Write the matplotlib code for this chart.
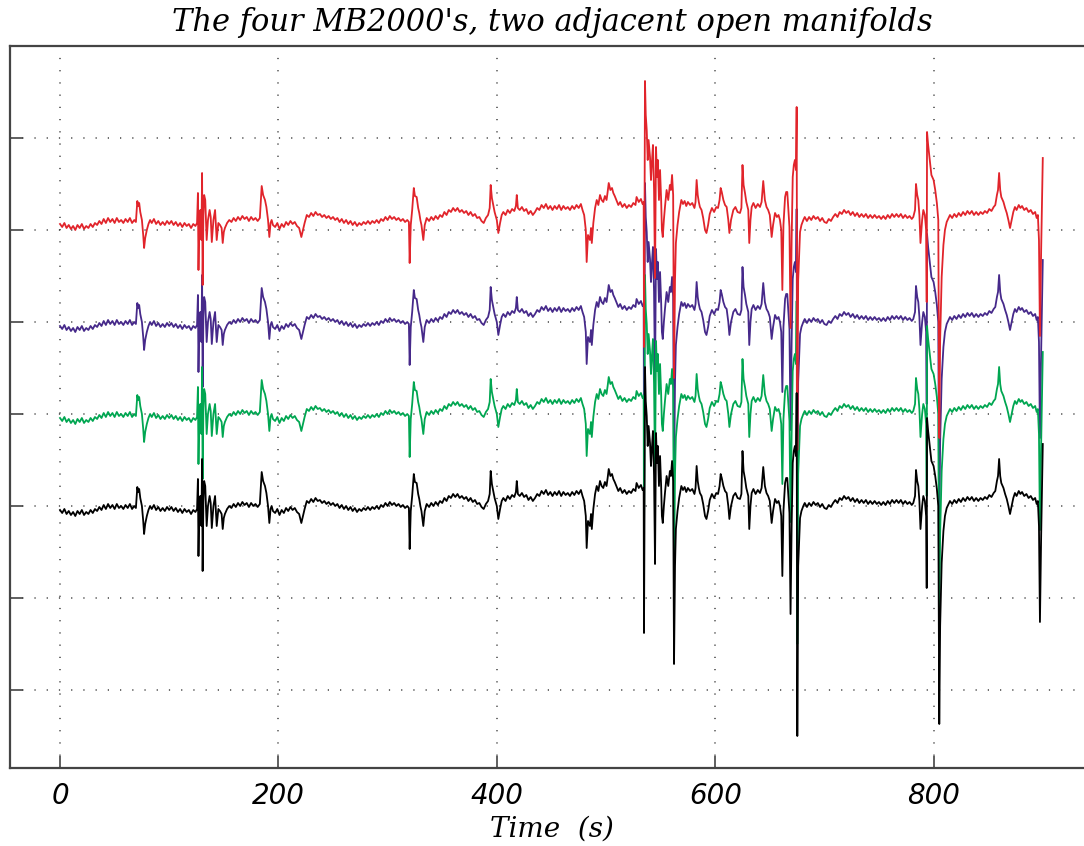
import matplotlib
matplotlib.use("Agg")
import matplotlib.pyplot as plt
import numpy as np

# ---- data (time in s, level in plot units; one grid division = 92 units) ----
time_s = [
    0, 2, 4, 6, 8, 10, 12, 14, 16, 18, 20, 22,
    24, 26, 28, 30, 32, 34, 36, 38, 40, 42, 44, 46,
    48, 50, 52, 54, 56, 58, 60, 62, 64, 66, 68, 69.5,
    70.8, 71.5, 72.5, 73.5, 75, 76.2, 77, 78, 79.5, 81, 82.5, 84,
    86, 88, 90, 92, 94, 96, 98, 100, 102, 104, 106, 108,
    110, 112, 114, 116, 118, 120, 122, 124, 125.5, 126.3, 126.8, 127.5,
    128.5, 129.5, 130.1, 130.6, 131.3, 132, 133, 134.3, 135.5, 137, 138, 139,
    140.5, 142, 143.5, 145, 146.5, 148, 149, 150, 151, 153, 155, 157,
    159, 161, 163, 165, 167, 169, 171, 173, 175, 177, 179, 181,
    183, 184.7, 186, 187.7, 189, 190.5, 191.7, 192.8, 193.8, 195, 197, 199,
    201, 203, 205, 207, 209, 211, 213, 215, 217, 219, 221, 222.5,
    224, 226, 228, 230, 232, 234, 236, 238, 240, 242, 244, 246,
    248, 250, 252, 254, 256, 258, 260, 262, 264, 266, 268, 270,
    272, 274, 276, 278, 280, 282, 284, 286, 288, 290, 292, 294,
    296, 298, 300, 302, 304, 306, 308, 310, 312, 314, 316, 318,
    319.5, 320.2, 321.2, 322.5, 324, 325, 326.6, 328, 329, 330, 331, 332.7,
    334, 335.8, 338, 340, 342, 344, 346, 348, 350, 352, 354, 356,
    358, 360, 362, 364, 366, 368, 370, 372, 374, 376, 378, 380,
    382, 384, 386, 388, 390, 392, 393.5, 394.4, 395.5, 396.8, 398, 400,
    401.4, 403, 404.5, 406, 408, 410, 412, 414, 416, 417.5, 418.3, 419.3,
    421, 423, 425, 427, 429, 431, 433, 435, 437, 439, 441, 443,
    445, 447, 449, 451, 453, 455, 457, 459, 461, 463, 465, 467,
    469, 471, 473, 475, 477, 478.5, 480, 481.5, 482.3, 483.5, 485.3, 486.3,
    487, 488.4, 490, 491.5, 493, 494.5, 496, 497.5, 499, 500.5, 501.5, 502.5,
    504, 505.5, 506.7, 508, 509.5, 511.3, 513, 515, 517, 519, 521, 523,
    525, 527, 528, 530, 532, 533.5, 534.5, 534.8, 535.2, 535.7, 536.4, 537.3,
    538.2, 539, 540.3, 541.2, 542, 543, 544, 544.9, 545.8, 546.7, 547.5, 548.5,
    549.5, 550.5, 551.2, 552, 553, 554, 555.5, 557, 558.5, 559.5, 560.5, 561.5,
    562.3, 563.2, 564, 565.5, 567, 567.8, 569, 570.5, 572, 573.5, 575, 577,
    579, 581, 582, 583, 584, 585, 586, 587.5, 589, 590.7, 592, 593.5,
    595, 597, 599, 601, 602.6, 604, 605, 606, 607.5, 609, 610.5, 612,
    613, 614.5, 616.6, 618.5, 620.5, 622.7, 624, 625, 626, 627.3, 628.5, 630.3,
    631.2, 632.3, 633.4, 635, 637, 639, 641, 642.5, 644, 645.5, 647, 648.5,
    650, 651.7, 653, 654.8, 656.5, 658, 659.3, 660.5, 661.5, 662.5, 664, 665,
    666, 667, 668, 669, 670, 671, 672, 673, 674, 674.6, 675.2, 676,
    677.7, 679, 680.7, 682, 684, 686, 688, 690, 692, 694, 696, 698,
    700, 702, 704, 706, 708, 710, 712, 714, 716, 718, 720, 722,
    724, 726, 728, 730, 732, 734, 736, 738, 740, 742, 744, 746,
    748, 750, 752, 754, 756, 758, 760, 762, 764, 766, 768, 770,
    772, 774, 776, 778, 780, 781.4, 783, 783.9, 785, 786, 787, 788,
    789.5, 790.6, 792, 793.2, 793.7, 794, 795, 795.8, 796.7, 798, 800, 801.5,
    803, 804.3, 805.2, 806, 807.4, 809, 810.4, 812, 815, 817, 819, 821,
    823, 825, 827, 829, 831, 833, 835, 837, 839, 841, 843, 845,
    847, 849, 851, 853, 855, 856.5, 858, 859, 860, 861, 862, 864,
    865.5, 867, 868.5, 870, 871.5, 873, 874.5, 876, 878, 879.5, 881, 883,
    885, 887, 889, 891, 893, 894.4, 895.5, 896.5, 897.4, 898.5, 899.3, 900,
]

signal = [
    -4, -7, -3, -8, -5, -9, -6, -10, -5, -8, -4, -9,
    -6, -8, -4, -7, -3, -5, -1, -4, 1, -3, 2, -2,
    1, -3, 2, -2, 0, -3, 1, -2, 2, -3, 0, -2,
    19, 14, 17, 8, 0, -15, -28, -18, -10, -4, 0, -3,
    1, -4, -1, -5, -2, -5, -1, -4, -1, -5, -2, -6,
    -3, -7, -3, -6, -4, -8, -4, -6, -3, 27, -50, -5,
    10, -20, 47, -65, 5, 25, 20, -20, 0, 10, 3, -22,
    0, 10, -20, -3, -5, -8, -23, -12, -8, -3, 0, -2,
    2, -1, 3, 0, 4, 1, 3, -1, 3, 0, 2, -1,
    2, 34, 25, 20, 13, 0, -17, -3, 0, -5, -7, -3,
    -9, -4, -7, -2, -5, -1, -4, -2, -6, -8, -17, -10,
    -3, 5, 3, 7, 4, 8, 5, 6, 3, 5, 2, 4,
    1, 3, 0, 2, -2, 1, -3, 0, -4, -1, -5, -2,
    -6, -3, -5, -2, -4, -1, -4, -1, -3, 0, -3, 1,
    -1, 3, 0, 4, 1, 3, 0, 2, -1, 1, -2, 0,
    -2, -43, -5, 10, 32, 24, 23, 12, 7, 0, -5, -20,
    -5, 2, -1, 3, 0, 4, 1, 5, 3, 8, 5, 10,
    8, 12, 9, 12, 8, 10, 7, 9, 5, 8, 4, 6,
    2, 3, -1, -3, 2, 5, 12, 35, 22, 15, 8, 0,
    -13, -3, 5, 8, 5, 10, 7, 11, 9, 14, 25, 12,
    10, 13, 9, 11, 6, 9, 5, 8, 12, 10, 15, 12,
    16, 11, 14, 10, 14, 11, 15, 10, 14, 11, 13, 10,
    14, 11, 15, 12, 16, 10, 5, -10, -42, -15, -20, -8,
    -23, -3, 12, 20, 15, 25, 20, 18, 24, 20, 28, 37,
    30, 32, 27, 24, 20, 15, 18, 13, 16, 12, 15, 13,
    17, 15, 23, 18, 21, 16, 18, -127, -30, 139, 105, 90,
    60, 80, 63, 40, 57, 75, 30, -58, 73, 43, 60, 20,
    50, 20, -10, -17, 0, 13, 30, 20, 35, 30, 45, 25,
    -158, -60, -23, -5, 8, 13, 20, 16, 19, 14, 18, 15,
    17, 12, 18, 40, 25, 18, 13, 10, 2, -10, -13, -5,
    6, 12, 8, 13, 12, 20, 32, 28, 20, 15, 13, 0,
    -13, 0, 10, 13, 8, 7, 12, 55, 35, 27, 18, 10,
    -23, 0, 13, 17, 12, 16, 13, 18, 39, 20, 13, 10,
    5, -17, -5, 7, 3, 5, 0, -10, -70, -5, 23, 28,
    28, 10, -7, -108, -20, 43, 55, 60, 50, 113, -230, -60,
    -12, -5, 0, 3, -1, 3, 0, 4, 1, 3, -1, 2,
    -2, -3, 1, -1, 3, 6, 3, 8, 6, 10, 7, 9,
    5, 8, 4, 7, 3, 6, 3, 6, 2, 5, 2, 5,
    2, 4, 1, 4, 1, 5, 2, 6, 3, 6, 3, 6,
    2, 5, 2, 4, 1, 3, 10, 36, 25, 20, 5, -23,
    0, 10, 5, -10, -82, 88, 75, 67, 57, 45, 40, 30,
    17, 0, -218, -120, -57, -25, -10, -2, 5, 2, 6, 3,
    7, 4, 8, 5, 9, 6, 9, 5, 8, 5, 8, 6,
    9, 7, 11, 9, 13, 15, 25, 30, 47, 30, 23, 18,
    12, 7, 0, -8, 0, 8, 13, 10, 15, 12, 14, 10,
    12, 8, 10, 6, 8, 2, 5, -20, -116, -30, 20, 62,
]

# draw order: purple, green, red, then black on top
series_names = ["purple", "green", "red", "black"]
series_offsets = [184, 92, 286, 0]
series_colors = ["#46298a", "#00a651", "#e1242b", "#000000"]

x_ticks = [0, 200, 400, 600, 800]
x_tick_labels = ["0", "200", "400", "600", "800"]
y_grid = [-184, -92, 0, 92, 184, 276, 368, 460]

# ---- figure ----
W, H = 1084, 846
fig = plt.figure(figsize=(W / 100, H / 100), dpi=100)
ax = fig.add_axes([10 / W, 1 - 768 / H, 1.0, (768 - 46) / H])

t = np.array(time_s)
s = np.array(signal, dtype=float)
for name, off, col in zip(series_names, series_offsets, series_colors):
    ax.plot(t, s + off, color=col, lw=1.3, zorder=3)

ax.set_xlim(-45.8, 946.9)
ax.set_ylim(-262, 460)
ax.set_xticks(x_ticks)
ax.set_xticklabels(x_tick_labels, fontsize=20, fontstyle="italic",
                   family="DejaVu Sans")
ax.set_yticks(y_grid)
ax.set_yticklabels([])
ax.tick_params(axis="both", direction="in", length=9, width=1.2,
               color="#444444")
ax.tick_params(axis="x", pad=10)
ax.grid(True, color="#444444", linestyle=(0, (0.8, 7.2)), linewidth=1.1,
        zorder=1)
for side in ["left", "bottom", "top"]:
    ax.spines[side].set_linewidth(1.6)
    ax.spines[side].set_color("#444444")
ax.spines["right"].set_visible(False)

fig.text(552 / W, 1 - 22 / H, "The four MB2000's, two adjacent open manifolds",
         ha="center", va="center", fontsize=22, fontstyle="italic",
         family="DejaVu Serif")
fig.text(552 / W, 1 - 829 / H, "Time  (s)", ha="center", va="center",
         fontsize=20, fontstyle="italic", family="DejaVu Serif")

fig.savefig("out.png", dpi=100)
